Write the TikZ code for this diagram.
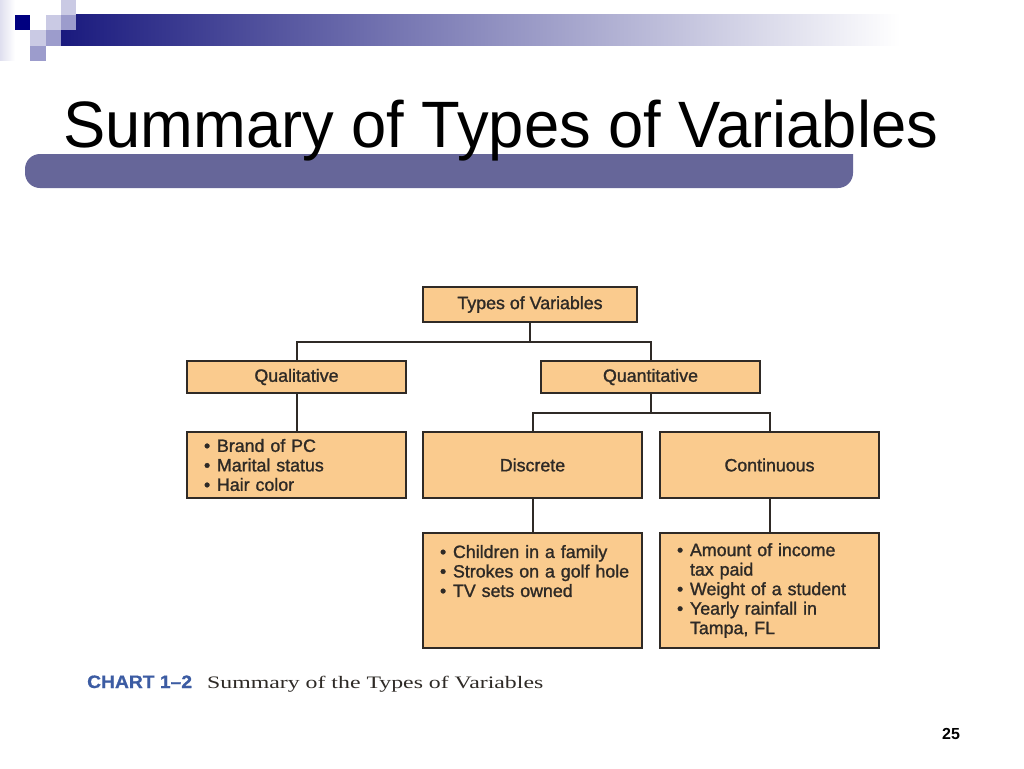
\documentclass[tikz,border=0pt]{standalone}
\usepackage{fontspec}
\setmainfont{Liberation Sans}
\newfontfamily\titlefont[FakeStretch=0.965]{Liberation Sans}
\newfontfamily\boxfont[FakeBold=1.3]{Liberation Sans}
\newfontfamily\capserif[FakeStretch=1.36]{Liberation Serif}
\newfontfamily\capsans[FakeStretch=1.07,FakeBold=0.8]{Liberation Sans}
\usetikzlibrary{positioning, calc}
\definecolor{vnavy}{HTML}{1A1A7E}
\definecolor{vdark}{HTML}{000080}
\definecolor{vlav}{HTML}{CACAE4}
\definecolor{vmid}{HTML}{9C9CCC}
\definecolor{vbar}{HTML}{666699}
\definecolor{vbox}{HTML}{FACB8E}
\definecolor{vedge}{HTML}{2F2A26}
\definecolor{vtext}{HTML}{2E2A26}
\definecolor{vblue}{HTML}{3C5CA3}
\tikzset{
  hbox/.style={draw=vedge, fill=vbox, line width=1.5pt, inner sep=0pt,
               minimum width=219pt, text=vtext,
               font=\boxfont\fontsize{17.8}{19.5}\selectfont},
  lbox/.style={hbox, align=left, inner xsep=17pt, text width=185pt},
  link/.style={draw=vedge, line width=2pt},
}
\newcommand{\itm}[1]{\makebox[13pt][l]{•}\mbox{#1}}
\newcommand{\itmc}[1]{\hspace*{13pt}\mbox{#1}}

\begin{document}
\begin{tikzpicture}[x=1pt, y=-1pt]
  \useasboundingbox[fill=white] (0,0) rectangle (1024,768);

  % slide decoration
  \shade[left color=vlav!60, right color=white] (0,0) rectangle (15,60);
  \shade[left color=vnavy, right color=white] (61,15) rectangle (900,46);
  \fill[vdark] (15,15) rectangle (30,30);
  \fill[vlav] (46,15) rectangle (61,30);
  \fill[vlav] (61,0) rectangle (76,15);
  \fill[vmid] (61,15) rectangle (76,30);
  \fill[vlav] (30,30) rectangle (46,46);
  \fill[vmid] (46,30) rectangle (61,46);
  \fill[vmid] (30,46) rectangle (46,61);
  \fill[vbar, rounded corners=15pt] (853,154) -- (25,154) -- (25,188) -- (853,188) [sharp corners] -- cycle;

  \node[anchor=base west, inner sep=0pt, font=\titlefont\fontsize{65.6}{70}\selectfont] (title) at (63,147) {Summary of Types of Variables};

  % chart
  \node[hbox, minimum width=214pt, minimum height=35pt] (types) at (530,304.5) {Types of Variables};
  \node[hbox, minimum height=32pt] (qual)  at (296.5,377) {Qualitative};
  \node[hbox, minimum height=32pt] (quant) at (650.5,377) {Quantitative};
  \node[lbox, minimum height=66pt] (quallist) at (296.5,465)
    {\itm{Brand of PC}\\ \itm{Marital status}\\ \itm{Hair color}};
  \node[hbox, minimum height=66pt] (disc) at (532.5,465) {Discrete};
  \node[hbox, minimum height=66pt] (cont) at (769.5,465) {Continuous};
  \node[lbox, minimum height=115pt] (disclist) at (532.5,590.5)
    {\itm{Children in a family}\\ \itm{Strokes on a golf hole}\\ \itm{TV sets owned}\\ \mbox{}\\ \mbox{}};
  \node[lbox, minimum height=115pt] (contlist) at (769.5,590.5)
    {\itm{Amount of income}\\ \itmc{tax paid}\\ \itm{Weight of a student}\\ \itm{Yearly rainfall in}\\ \itmc{Tampa, FL}};

  \draw[link] (types.south) -- ++(0,19.5) -| (qual.north);
  \draw[link] (types.south) ++(0,19.5) -| (quant.north);
  \draw[link] (qual) -- (quallist);
  \draw[link] (quant.south) -- ++(0,19.5) -| (disc.north);
  \draw[link] (quant.south) ++(0,19.5) -| (cont.north);
  \draw[link] (disc) -- (disclist);
  \draw[link] (cont) -- (contlist);

  % caption and page number
  \node[anchor=base west, inner sep=0pt, text=vblue, font=\capsans\bfseries\fontsize{18}{20}\selectfont] (chart) at (87,688) {CHART 1–2};
  \node[anchor=base west, inner sep=0pt, text=vtext, font=\capserif\fontsize{17.5}{20}\selectfont] (captext) at (207,688) {Summary of the Types of Variables};
  \node[anchor=base, inner sep=0pt, font=\bfseries\fontsize{16}{18}\selectfont] (page) at (951,739) {25};
\end{tikzpicture}
\end{document}
